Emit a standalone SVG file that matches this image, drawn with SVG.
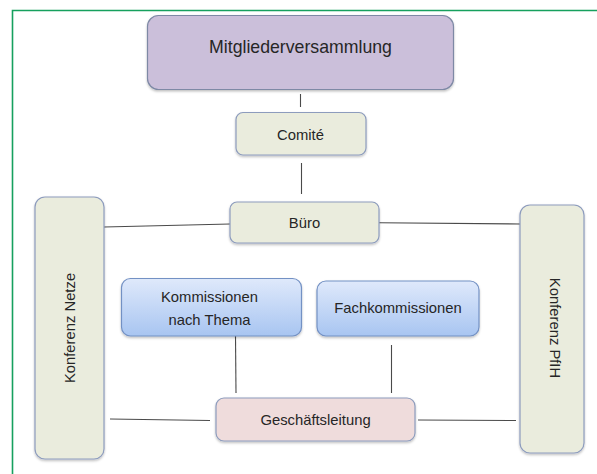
<svg xmlns="http://www.w3.org/2000/svg" width="597" height="474" viewBox="0 0 597 474">
<style>
.lbl{font-family:"Liberation Sans",Arial,sans-serif;fill:#262626;text-anchor:middle;dominant-baseline:central}
.g{fill:#eaecdd;stroke:#8d9cbd;stroke-width:1.2}
.conn{stroke:#4a4a4a;stroke-width:1.1;fill:none}
</style>
<defs>
<linearGradient id="blue" x1="0" y1="0" x2="0" y2="1">
<stop offset="0" stop-color="#dfe9fb"/>
<stop offset="1" stop-color="#a8c5f1"/>
</linearGradient>
<filter id="sh" x="-10%" y="-10%" width="120%" height="130%">
<feDropShadow dx="0" dy="1.5" stdDeviation="1.2" flood-color="#000" flood-opacity="0.25"/>
</filter>
</defs>
<rect width="597" height="474" fill="#fff"/>
<path d="M597,10.5 H12.5 V474" fill="none" stroke="#16a05e" stroke-width="1.6"/>
<g id="connectors">
<line class="conn" x1="300.5" y1="94" x2="300.5" y2="107"/>
<line class="conn" x1="301.5" y1="163" x2="301.5" y2="194"/>
<line class="conn" x1="104" y1="227" x2="230" y2="224"/>
<line class="conn" x1="379" y1="222.7" x2="520" y2="224"/>
<line class="conn" x1="235.5" y1="336" x2="236" y2="393"/>
<line class="conn" x1="391.5" y1="345" x2="391.5" y2="393"/>
<line class="conn" x1="110" y1="419" x2="210" y2="420.5"/>
<line class="conn" x1="418" y1="420" x2="516" y2="420.5"/>
</g>
<g id="mitgliederversammlung">
<rect x="147.5" y="15.5" width="306" height="74" rx="11" fill="#cbbfda" stroke="#7e89a5" stroke-width="1.2" filter="url(#sh)"/>
<text class="lbl" x="300.5" y="47" font-size="17.7">Mitgliederversammlung</text>
</g>
<g id="comite">
<rect class="g" x="236" y="112.5" width="130" height="42.5" rx="7" filter="url(#sh)"/>
<text class="lbl" x="300.5" y="135" font-size="14.8">Comité</text>
</g>
<g id="buero">
<rect class="g" x="230" y="202" width="149" height="41" rx="7" filter="url(#sh)"/>
<text class="lbl" x="304.5" y="223" font-size="14.8">Büro</text>
</g>
<g id="konferenz-netze">
<rect class="g" x="35" y="197" width="69" height="262" rx="10" filter="url(#sh)"/>
<text class="lbl" transform="translate(70,328) rotate(-90)" x="0" y="0" font-size="14.8">Konferenz Netze</text>
</g>
<g id="konferenz-pfih">
<rect class="g" x="520" y="205" width="64" height="248" rx="10" filter="url(#sh)"/>
<text class="lbl" transform="translate(555,328) rotate(90)" x="0" y="0" font-size="14.8">Konferenz PfIH</text>
</g>
<g id="kommissionen-nach-thema">
<rect x="121.5" y="278.5" width="180" height="57.5" rx="9" fill="url(#blue)" stroke="#7391c4" stroke-width="1.2" filter="url(#sh)"/>
<text class="lbl" x="209.5" y="297" font-size="14.8">Kommissionen</text>
<text class="lbl" x="209.5" y="320" font-size="14.8">nach Thema</text>
</g>
<g id="fachkommissionen">
<rect x="317" y="281" width="162" height="55" rx="9" fill="url(#blue)" stroke="#7391c4" stroke-width="1.2" filter="url(#sh)"/>
<text class="lbl" x="398" y="308" font-size="14.8">Fachkommissionen</text>
</g>
<g id="geschaeftsleitung">
<rect x="216" y="398" width="199" height="43" rx="8" fill="#efdcdc" stroke="#8d9cbd" stroke-width="1.2" filter="url(#sh)"/>
<text class="lbl" x="315.5" y="420" font-size="14.8">Geschäftsleitung</text>
</g>
</svg>
